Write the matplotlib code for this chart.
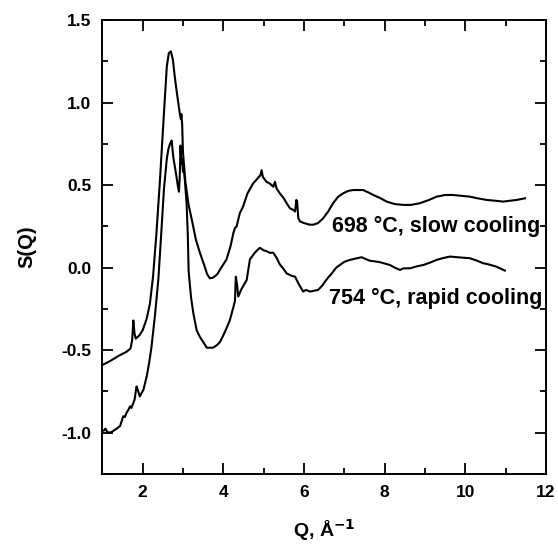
import numpy as np
import matplotlib
matplotlib.use('Agg')
import matplotlib.pyplot as plt
from matplotlib.ticker import MultipleLocator, FixedLocator, FixedFormatter

plt.rcParams['font.family'] = ['Liberation Sans', 'DejaVu Sans']
plt.rcParams['font.weight'] = 'bold'

# 698 C, slow cooling (Q, S(Q))
q_slow = [1.0, 1.2, 1.4, 1.6, 1.7, 1.74, 1.77, 1.80, 1.83, 1.92, 2.0, 2.1, 2.18, 2.26,
          2.34, 2.43, 2.52, 2.60, 2.65, 2.70, 2.75, 2.80, 2.86, 2.90, 2.93, 2.95, 2.96,
          2.98, 3.0, 3.06, 3.14, 3.22, 3.32, 3.42, 3.52, 3.60, 3.67, 3.75, 3.85, 3.95,
          4.08, 4.18, 4.25, 4.29, 4.33, 4.41, 4.49, 4.60, 4.74, 4.85, 4.92, 4.95, 4.98,
          5.07, 5.15, 5.24, 5.28, 5.32, 5.40, 5.50, 5.57, 5.65, 5.73, 5.78, 5.81, 5.83,
          5.86, 5.90, 6.0, 6.07, 6.15, 6.23, 6.35, 6.48, 6.6, 6.72, 6.85, 6.97, 7.1,
          7.22, 7.35, 7.47, 7.6, 7.72, 7.9, 8.05, 8.25, 8.46, 8.65, 8.87, 9.1, 9.29,
          9.5, 9.70, 9.9, 10.11, 10.3, 10.53, 10.75, 10.94, 11.1, 11.27, 11.48]
s_slow = [-0.59, -0.565, -0.535, -0.51, -0.49, -0.44, -0.32, -0.40, -0.43, -0.41, -0.38,
          -0.31, -0.22, -0.05, 0.2, 0.53, 0.9, 1.22, 1.30, 1.31, 1.26, 1.15, 1.04, 0.97,
          0.92, 0.90, 0.93, 0.87, 0.70, 0.52, 0.38, 0.29, 0.17, 0.09, 0.02, -0.04, -0.065,
          -0.06, -0.04, 0.0, 0.05, 0.13, 0.21, 0.24, 0.25, 0.33, 0.37, 0.45, 0.51, 0.54,
          0.56, 0.59, 0.55, 0.52, 0.51, 0.49, 0.52, 0.48, 0.45, 0.42, 0.39, 0.36, 0.35,
          0.34, 0.41, 0.40, 0.30, 0.28, 0.27, 0.265, 0.26, 0.26, 0.27, 0.30, 0.34, 0.39,
          0.43, 0.45, 0.465, 0.47, 0.47, 0.47, 0.455, 0.44, 0.42, 0.40, 0.385, 0.38, 0.38,
          0.39, 0.41, 0.43, 0.44, 0.44, 0.435, 0.43, 0.42, 0.41, 0.405, 0.40, 0.405, 0.41,
          0.42]

# 754 C, rapid cooling
q_rapid = [1.0, 1.05, 1.08, 1.12, 1.19, 1.3, 1.44, 1.48, 1.52, 1.56, 1.60, 1.65, 1.69,
           1.72, 1.77, 1.80, 1.85, 1.88, 1.93, 2.02, 2.10, 2.16, 2.22, 2.31, 2.39, 2.46,
           2.53, 2.60, 2.64, 2.68, 2.72, 2.76, 2.80, 2.84, 2.87, 2.90, 2.92, 2.94, 2.96,
           2.98, 3.0, 3.02, 3.05, 3.09, 3.12, 3.14, 3.2, 3.26, 3.34, 3.42, 3.50, 3.59,
           3.75, 3.84, 3.92, 4.04, 4.16, 4.25, 4.29, 4.31, 4.34, 4.37, 4.45, 4.58, 4.66,
           4.78, 4.86, 4.91, 5.0, 5.07, 5.15, 5.24, 5.32, 5.40, 5.50, 5.57, 5.70, 5.78,
           5.86, 5.98, 6.05, 6.15, 6.25, 6.35, 6.45, 6.52, 6.60, 6.69, 6.80, 6.89, 7.0,
           7.14, 7.28, 7.43, 7.55, 7.63, 7.75, 7.88, 8.0, 8.13, 8.25, 8.38, 8.46, 8.54,
           8.63, 8.80, 8.96, 9.12, 9.29, 9.45, 9.62, 9.85, 10.11, 10.28, 10.44, 10.6,
           10.77, 10.98]
s_rapid = [-0.99, -0.985, -0.975, -0.995, -1.0, -0.985, -0.96, -0.93, -0.90, -0.905,
           -0.88, -0.86, -0.84, -0.85, -0.82, -0.80, -0.72, -0.74, -0.78, -0.74, -0.66,
           -0.58, -0.48, -0.28, -0.07, 0.2, 0.48, 0.66, 0.72, 0.75, 0.77, 0.67, 0.61, 0.55,
           0.50, 0.46, 0.55, 0.74, 0.63, 0.66, 0.58, 0.60, 0.52, 0.39, 0.2, -0.02, -0.18,
           -0.28, -0.38, -0.42, -0.45, -0.485, -0.485, -0.47, -0.45, -0.39, -0.32, -0.24,
           -0.20, -0.055, -0.10, -0.175, -0.13, -0.075, 0.05, 0.09, 0.11, 0.12, 0.105, 0.10,
           0.09, 0.09, 0.06, 0.02, -0.01, -0.035, -0.05, -0.055, -0.095, -0.145, -0.135,
           -0.145, -0.14, -0.135, -0.11, -0.085, -0.06, -0.035, 0.0, 0.016, 0.035, 0.047,
           0.055, 0.063, 0.05, 0.042, 0.038, 0.033, 0.025, 0.016, 0.0, -0.014, -0.005,
           -0.004, -0.004, 0.008, 0.016, 0.03, 0.047, 0.058, 0.067, 0.062, 0.057, 0.043,
           0.027, 0.018, 0.006, -0.018]

y_ticks = [-1.0, -0.5, 0.0, 0.5, 1.0, 1.5]
y_ticklabels = ['-1.0', '-0.5', '0.0', '0.5', '1.0', '1.5']
x_ticks = [2, 4, 6, 8, 10, 12]

fig = plt.figure(figsize=(5.58, 5.45), dpi=100)
ax = fig.add_axes([0.1833, 0.1303, 0.7952, 0.833])

ax.plot(q_slow, s_slow, color='black', lw=1.5)
ax.plot(q_rapid, s_rapid, color='black', lw=1.5)

ax.text(6.69, 0.25, '698 \u00b0C, slow cooling', fontsize=15.5, fontweight='bold',
        va='center', ha='left')
ax.text(6.63, -0.185, '754 \u00b0C, rapid cooling', fontsize=15.5, fontweight='bold',
        va='center', ha='left')

ax.set_xlim(1, 12)
ax.set_ylim(-1.25, 1.5)
ax.xaxis.set_major_locator(FixedLocator(x_ticks))
ax.xaxis.set_minor_locator(MultipleLocator(1))
ax.yaxis.set_major_locator(FixedLocator(y_ticks))
ax.yaxis.set_major_formatter(FixedFormatter(y_ticklabels))
ax.yaxis.set_minor_locator(MultipleLocator(0.25))
ax.tick_params(which='both', direction='in', top=True, right=True, width=1.3,
               labelsize=12.5)
ax.tick_params(which='major', length=8)
ax.tick_params(which='minor', length=4)
ax.tick_params(axis='y', pad=8)
ax.tick_params(axis='x', pad=8)
for lab in ax.get_xticklabels() + ax.get_yticklabels():
    lab.set_fontweight('bold')
for sp in ax.spines.values():
    sp.set_linewidth(1.4)

ax.set_xlabel('Q, \u00c5$^{\\mathbf{-1}}$', fontsize=14, fontweight='bold', labelpad=12)
ax.set_ylabel('S(Q)', fontsize=14.5, fontweight='bold', labelpad=18)

fig.savefig('out.png', dpi=100)
